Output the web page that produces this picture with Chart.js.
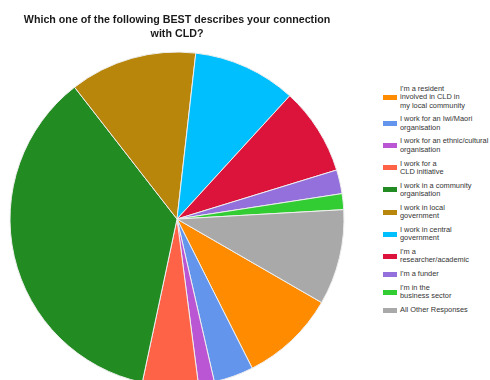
<!DOCTYPE html>
<html>
<head>
<meta charset="utf-8">
<script src="https://cdn.jsdelivr.net/npm/chart.js@4"></script>
<style>
  body { margin: 0; background: #fff; }
  #wrap { position: relative; width: 490px; height: 380px; overflow: hidden; }
  #chartCanvas { position: absolute; left: 0; top: 0; }
  #legend { position: absolute; left: 383px; top: 85px; font-family: "Liberation Sans", Arial, sans-serif; font-size: 7.4px; line-height: 8.3px; color: #333; }
  .item { display: flex; align-items: center; margin-bottom: 5.5px; }
  .box { width: 14px; height: 5px; margin-right: 3px; flex: none; }
</style>
</head>
<body>
<div id="wrap">
  <canvas id="chartCanvas" width="354" height="386"></canvas>
  <div id="legend"></div>
</div>
<script>
// Categorías (las líneas del leyenda van separadas)
const labels = [
    ["I'm a resident", "involved in CLD in", "my local community"],
    ["I work for an Iwi/Maori", "organisation"],
    ["I work for an ethnic/cultural", "organisation"],
    ["I work for a", "CLD initiative"],
    ["I work in a community", "organisation"],
    ["I work in local", "government"],
    ["I work in central", "government"],
    ["I'm a", "researcher/academic"],
    ["I'm a funder"],
    ["I'm in the", "business sector"],
    ["All Other Responses"]
];
const responses = [12, 5, 2, 7, 47, 16, 13, 11, 3, 2, 12];
const colors = ['#FF8C00', '#6495ED', '#BA55D3', '#FF6347', '#228B22', '#B8860B',
                '#00BFFF', '#DC143C', '#9370DB', '#32CD32', '#A9A9A9'];
const titleLines = ['Which one of the following BEST describes your connection', 'with CLD?'];

document.addEventListener('DOMContentLoaded', function () {
    const ctx = document.getElementById('chartCanvas').getContext('2d');

    const chart = new Chart(ctx, {
        type: 'pie',
        data: {
            labels: labels.map(l => l.join(' ')),
            datasets: [{
                data: responses,
                backgroundColor: colors,
                borderColor: '#eeeeee',
                borderWidth: 1,
                radius: 167
            }]
        },
        options: {
            responsive: false,
            animation: false,
            rotation: 120,
            layout: { padding: 0 },
            plugins: {
                legend: { display: false },
                tooltip: { enabled: false },
                title: {
                    display: true,
                    text: titleLines,
                    color: '#1a1a1a',
                    font: { family: '"Liberation Sans", Arial, sans-serif', size: 10.7, weight: 'bold', lineHeight: 1.22 },
                    padding: { top: 14, bottom: 12 }
                }
            }
        }
    });

    // Leyenda en HTML a la derecha
    const legend = document.getElementById('legend');
    labels.forEach(function (lines, i) {
        const item = document.createElement('div');
        item.className = 'item';
        const box = document.createElement('span');
        box.className = 'box';
        box.style.background = chart.data.datasets[0].backgroundColor[i];
        const txt = document.createElement('span');
        txt.innerHTML = lines.join('<br>');
        item.appendChild(box);
        item.appendChild(txt);
        legend.appendChild(item);
    });
});
</script>
</body>
</html>
